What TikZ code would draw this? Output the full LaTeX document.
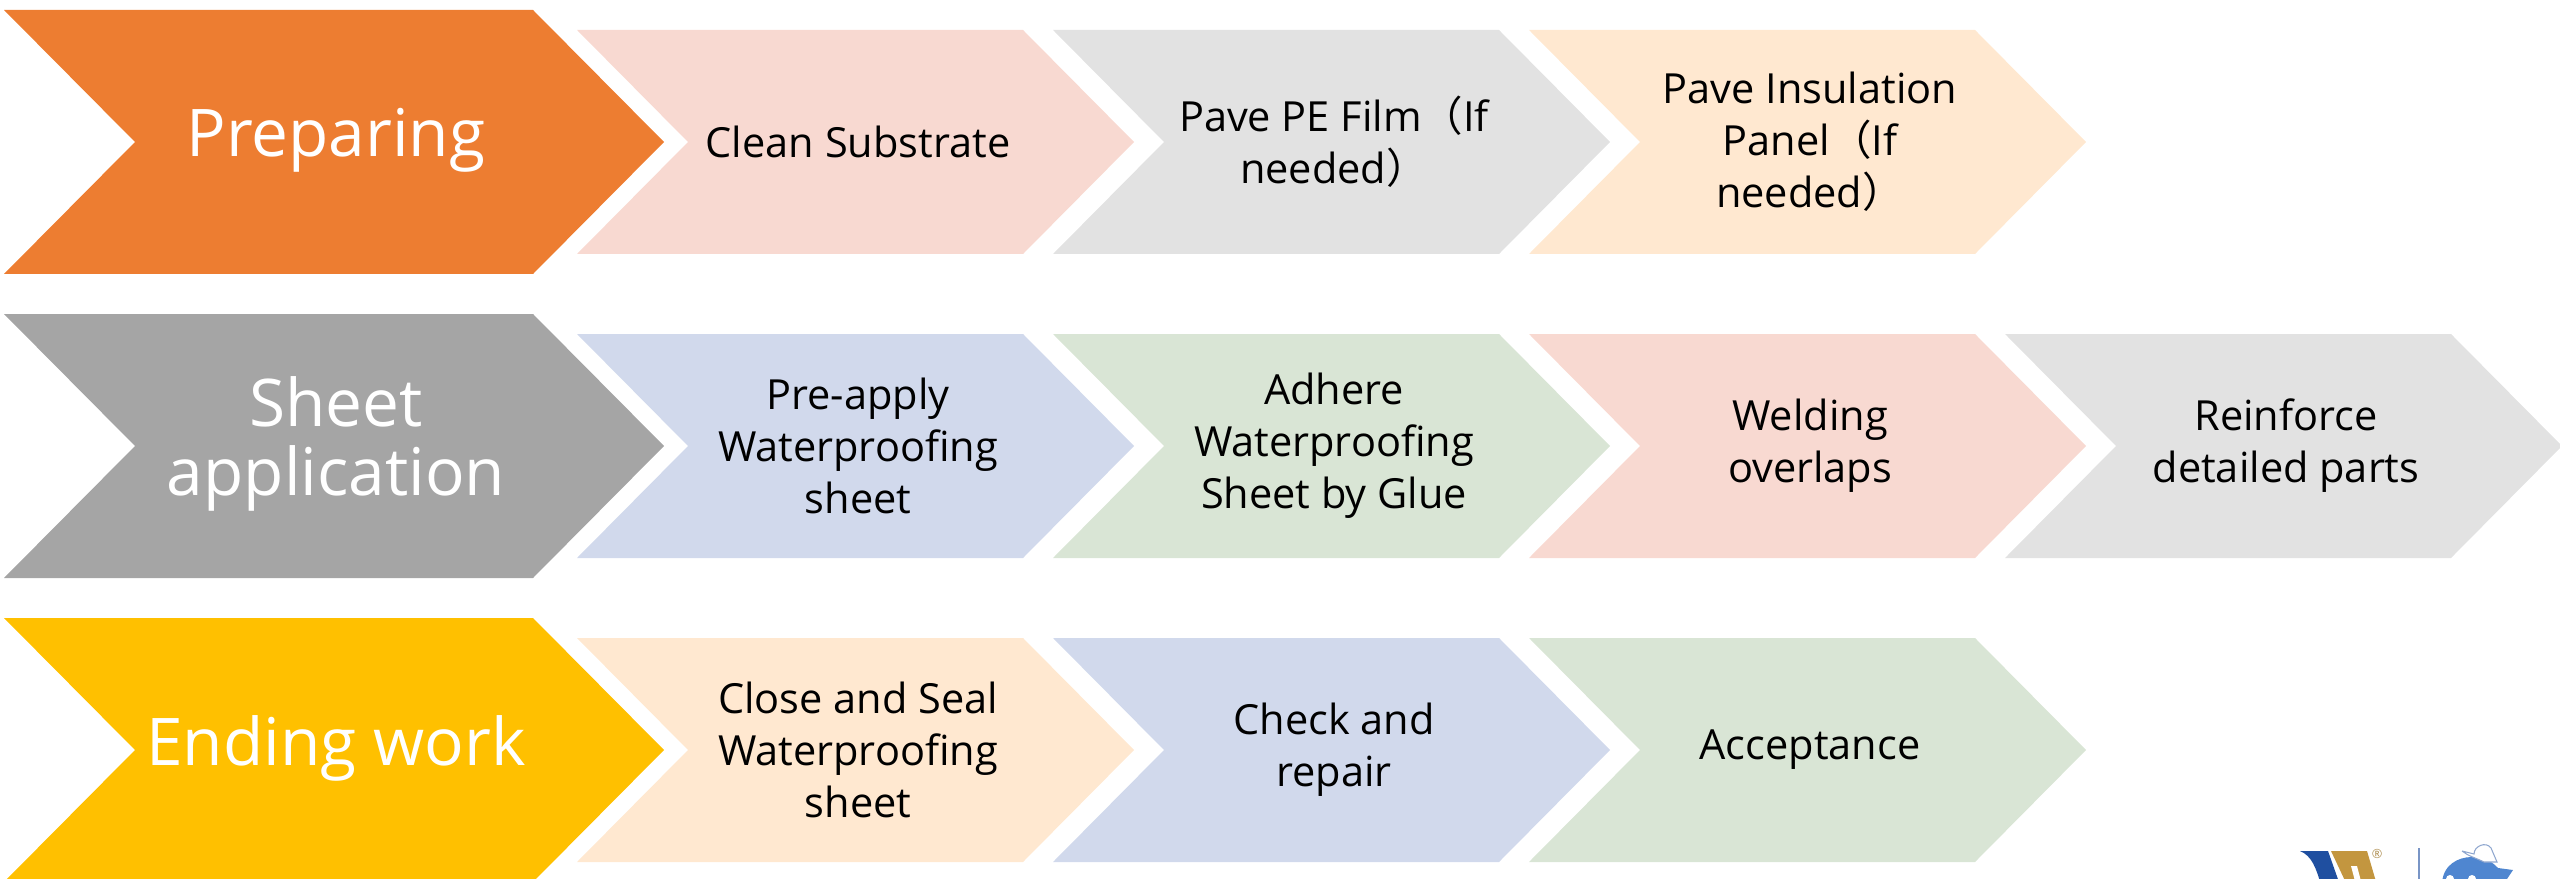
\documentclass[tikz,border=0pt]{standalone}
\usepackage{fontspec}
\setmainfont{Open Sans}
\newfontfamily\cjk{Noto Sans CJK SC}
\usepackage{xcolor}
\definecolor{headorange}{HTML}{ED7D31}
\definecolor{headgray}{HTML}{A5A5A5}
\definecolor{headgold}{HTML}{FFC000}
\definecolor{stepred}{HTML}{F8D9D1}
\definecolor{stepgray}{HTML}{E2E2E2}
\definecolor{steppeach}{HTML}{FFE8D0}
\definecolor{stepblue}{HTML}{D1D9EC}
\definecolor{stepgreen}{HTML}{D9E5D5}
\definecolor{logoblue}{HTML}{1F4FA0}
\definecolor{logogold}{HTML}{C3963F}
\definecolor{logofish}{HTML}{4F86D0}
\tikzset{
	headlabel/.style={white, align=center, font=\fontsize{18.7}{19.8}\selectfont},
	steplabel/.style={black, align=center, font=\fontsize{11.8}{14.8}\selectfont}
}
\newcommand{\lp}{{\cjk （}}
\newcommand{\rp}{{\cjk ）}}
\begin{document}
\begin{tikzpicture}[x=0.01cm, y=-0.01cm]
	\useasboundingbox (0,0) rectangle (2560,879);
	\clip (0,0) rectangle (2560,879);
	% head chevrons
	\foreach \y/\col/\name/\txt in {
		10/headorange/prep/{Preparing},
		314/headgray/sheet/{Sheet\\application},
		618/headgold/ending/{Ending work}} {
		\fill [\col] (4,\y) -- (533,\y) -- (664,\y+132) -- (533,\y+264) -- (4,\y+264) -- (135,\y+132) -- cycle;
		\node [headlabel] (\name) at (336,\y+130) {\txt};
	}
	% step chevrons
	\foreach \x/\y/\col/\name/\txt in {
		577/30/stepred/clean/{Clean Substrate},
		1053/30/stepgray/film/{Pave PE Film\lp If\\needed\rp},
		1529/30/steppeach/panel/{Pave Insulation\\Panel\lp If\\needed\rp},
		577/334/stepblue/preapply/{Pre-apply\\Waterproofing\\sheet},
		1053/334/stepgreen/adhere/{Adhere\\Waterproofing\\Sheet by Glue},
		1529/334/stepred/welding/{Welding\\overlaps},
		2005/334/stepgray/reinforce/{Reinforce\\detailed parts},
		577/638/steppeach/close/{Close and Seal\\Waterproofing\\sheet},
		1053/638/stepblue/check/{Check and\\repair},
		1529/638/stepgreen/accept/{Acceptance}} {
		\fill [\col] (\x,\y) -- (\x+446,\y) -- (\x+557,\y+112) -- (\x+446,\y+224) -- (\x,\y+224) -- (\x+111,\y+112) -- cycle;
		\node [steplabel] (\name) at (\x+281,\y+112) {\txt};
	}
	% logo
	\fill [logoblue] (2300,851) -- (2328,851) -- (2340,885) -- (2321,885) .. controls (2316,868) and (2312,856) .. cycle;
	\fill [logogold] (2331,851) -- (2367,851) -- (2377,885) -- (2347,885) -- cycle;
	\fill [white] (2351,866) -- (2357,866) -- (2362,885) -- (2356,885) -- cycle;
	\node [logogold!70!gray, inner sep=0pt, font=\fontsize{3.6}{4}\selectfont] (mark) at (2377,854) {®};
	\draw [logoblue!60, line width=0.5pt] (2419,848) -- (2419,885);
	% dolphin
	\fill [logofish] (2442,885) .. controls (2442,865) and (2458,857) .. (2472,857)
		.. controls (2486,857) and (2492,862) .. (2498,868) -- (2513,870) -- (2503,885) -- cycle;
	\fill [white, draw=logoblue!50, line width=0.3pt] (2462,851) -- (2474,854) .. controls (2474,846) and (2486,841) .. (2491,848) -- (2497,862) -- (2484,862) .. controls (2476,858) and (2468,856) .. (2462,851);
	\fill [white] (2450,879) circle (4) (2472,879) circle (4);
\end{tikzpicture}
\end{document}
